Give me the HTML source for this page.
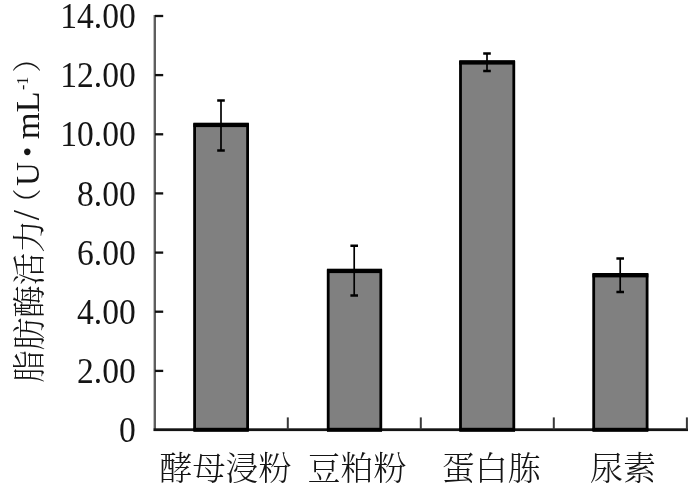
<!DOCTYPE html>
<html>
<head>
<meta charset="utf-8">
<title>脂肪酶活力</title>
<style>
html,body{margin:0;padding:0;background:#fff;}
body{width:689px;height:484px;overflow:hidden;position:relative;}
svg{position:absolute;left:0;top:0;display:block;}
.num{font-family:"Liberation Serif","Noto Serif CJK SC",serif;font-size:36.7px;fill:#151515;}
.cat{font-family:"Liberation Serif","Noto Serif CJK SC",serif;font-size:33px;fill:#151515;font-weight:300;}
.lat{font-family:"Liberation Serif","Noto Serif CJK SC",serif;font-size:33px;fill:#151515;}
</style>
</head>
<body>
<svg width="689" height="484" viewBox="0 0 689 484">
  <!-- axes -->
  <rect x="153.6" y="15" width="2.4" height="416" fill="#5e5e5e"/>
  <rect x="153.6" y="428.3" width="534.4" height="2.8" fill="#141414"/>
  <g fill="#111">
    <rect x="155" y="14.85" width="8.2" height="2.3"/>
    <rect x="155" y="73.95" width="8.2" height="2.3"/>
    <rect x="155" y="133.15" width="8.2" height="2.3"/>
    <rect x="155" y="192.25" width="8.2" height="2.3"/>
    <rect x="155" y="251.45" width="8.2" height="2.3"/>
    <rect x="155" y="310.55" width="8.2" height="2.3"/>
    <rect x="155" y="369.75" width="8.2" height="2.3"/>
  </g>
  <g fill="#383838">
    <rect x="286.8" y="417.4" width="2" height="12"/>
    <rect x="419.8" y="417.4" width="2" height="12"/>
    <rect x="552.8" y="417.4" width="2" height="12"/>
    <rect x="685.9" y="417.4" width="2" height="12"/>
  </g>
  <!-- bars -->
  <g fill="#808080" stroke="#000" stroke-width="2.8">
    <rect x="194.6" y="124.7" width="53" height="305"/>
    <rect x="328.2" y="270.7" width="52.6" height="159"/>
    <rect x="460.5" y="62.2" width="53.3" height="367.5"/>
    <rect x="593.7" y="275" width="53.4" height="154.7"/>
  </g>
  <g fill="#000">
    <rect x="193.4" y="122.7" width="55.4" height="4.4"/>
    <rect x="327" y="268.7" width="55" height="4.4"/>
    <rect x="459.3" y="60.2" width="55.7" height="4.4"/>
    <rect x="592.5" y="273" width="55.8" height="4.4"/>
    <rect x="193.4" y="427.8" width="55.4" height="4"/>
    <rect x="327" y="427.8" width="55" height="4"/>
    <rect x="459.3" y="427.8" width="55.7" height="4"/>
    <rect x="592.5" y="427.8" width="55.8" height="4"/>
  </g>
  <!-- error bars -->
  <g stroke="#000" stroke-width="1.7" fill="none">
    <path d="M221 100.5V150.4"/>
    <path d="M354.2 245.8V295.6"/>
    <path d="M487 53.5V71"/>
    <path d="M620.2 258.4V292"/>
  </g>
  <g stroke="#000" stroke-width="2.5" fill="none">
    <path d="M217.2 100.5H224.8M217.2 150.4H224.8"/>
    <path d="M350.4 245.8H358M350.4 295.6H358"/>
    <path d="M483.2 53.5H490.8M483.2 71H490.8"/>
    <path d="M616.4 258.4H624M616.4 292H624"/>
  </g>
  <!-- y tick labels -->
  <g class="num" text-anchor="end" transform="translate(135.7 0) scale(0.915 1)">
    <text x="0" y="28.2">14.00</text>
    <text x="0" y="87.3">12.00</text>
    <text x="0" y="146.5">10.00</text>
    <text x="0" y="205.6">8.00</text>
    <text x="0" y="264.8">6.00</text>
    <text x="0" y="323.9">4.00</text>
    <text x="0" y="383.1">2.00</text>
    <text x="0" y="442.2">0</text>
  </g>
  <!-- category labels -->
  <g class="cat">
    <text x="159.6" y="479.6">酵母浸粉</text>
    <text x="307.4" y="479.6">豆粕粉</text>
    <text x="441.8" y="479.6">蛋白胨</text>
    <text x="590" y="479.6">尿素</text>
  </g>
  <!-- y axis title -->
  <g class="cat" transform="translate(41 382.8) rotate(-90)">
    <text x="0" y="0" font-size="32.5">脂肪酶活力</text>
  </g>
  <g class="lat" transform="translate(39.4 0) rotate(-90)">
    <text x="-220.2" y="0" font-size="37">/</text>
    <text x="-186" y="0">U</text>
    <text x="-156.7" y="-2.8" font-size="28">•</text>
    <text transform="translate(-139.3 0) scale(1.045 1)" x="0" y="0">mL</text>
    <text x="-90" y="-11.2" font-size="16">-1</text>
  </g>
  <g class="cat" transform="translate(39.4 0) rotate(-90)">
    <text x="-217.5" y="-1.5" font-size="29">（</text>
    <text x="-72.5" y="-1.5" font-size="29">）</text>
  </g>
</svg>
</body>
</html>
